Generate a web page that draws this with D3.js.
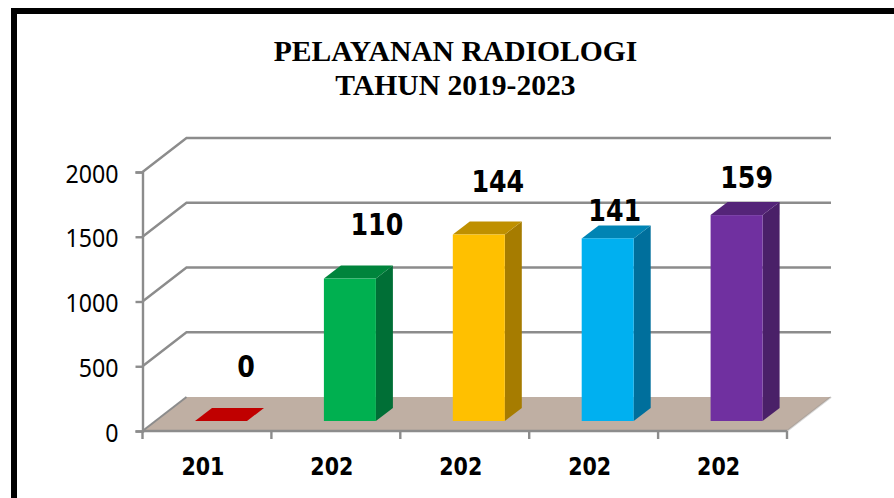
<!DOCTYPE html>
<html><head><meta charset="utf-8">
<script src="https://cdn.jsdelivr.net/npm/d3@7"></script>
<style>html,body{margin:0;background:#fff}svg{display:block}</style></head>
<body><svg id="c" width="894" height="498"></svg>
<script>
const titleLines = ["PELAYANAN RADIOLOGI", "TAHUN 2019-2023"];
const categories = ["a", "b", "c", "d", "e"];
const categoryLabels = ["201", "202", "202", "202", "202"];
const values = [0, 1100, 1440, 1410, 1590];
const valueLabels = ["0", "110", "144", "141", "159"];
const yTicks = [0, 500, 1000, 1500, 2000];
const frontColors = ["#c00000", "#00b050", "#ffc000", "#00b0f0", "#7030a0"];
const topColors = ["#c00000", "#00843c", "#bf9000", "#0084b4", "#542478"];
const sideColors = ["#900000", "#006f36", "#a67c00", "#006f9c", "#4a2068"];
const labelShift = [[25, -55], [27, -54], [19, -53], [7, -28], [10, -38]];

const svg = d3.select("#c");
const W = 894, H = 498;
const x = d3.scaleBand().domain(categories).range([142.5, 787]);
const y = d3.scaleLinear().domain([0, 2000]).range([431, 172]);
const depth = [44, -34];
const grey = "#8c8c8c";
const pts = a => a.map(p => p.join(",")).join(" ");

// frame
svg.append("path").attr("d", `M14,${H}V11H${W}`).attr("fill", "none").attr("stroke", "#000").attr("stroke-width", 6);

// floor
const x0 = x.range()[0], x1 = x.range()[1], y0 = y(0);
svg.append("polygon").attr("fill", "#bfafa3")
  .attr("points", pts([[x0, y0], [x0 + depth[0], y0 + depth[1]], [x1 + depth[0], y0 + depth[1]], [x1, y0]]));

// wall gridlines
yTicks.forEach(t => {
  const yy = y(t);
  if (t > 0) svg.append("polyline").attr("fill", "none").attr("stroke", grey).attr("stroke-width", 2.4)
    .attr("points", pts([[x0, yy], [x0 + depth[0], yy + depth[1]], [x1 + depth[0], yy + depth[1]]]));
});
svg.append("polyline").attr("fill", "none").attr("stroke", grey).attr("stroke-width", 2)
  .attr("points", pts([[x0, y0], [x0 + depth[0], y0 + depth[1]]]));
svg.append("polyline").attr("fill", "none").attr("stroke", grey).attr("stroke-width", 2)
  .attr("points", pts([[x1, y0], [x1 + depth[0], y0 + depth[1]]])).attr("stroke-opacity", 0.35);

// axes
const axisY = d3.axisLeft(y).tickValues(yTicks).tickSize(7).tickPadding(17).tickFormat(d3.format("d"));
const gy = svg.append("g").attr("transform", `translate(${x0},0)`).call(axisY);
gy.selectAll("path,line").attr("stroke", grey).attr("stroke-width", 2.4);
gy.selectAll("text").attr("font-family", "'Noto Sans'").attr("font-size", 25).attr("fill", "#000")
  .attr("y", 2)
  .attr("textLength", d => String(d).length * 13.25).attr("lengthAdjust", "spacingAndGlyphs");

const axisX = d3.axisBottom(x).tickSize(0).tickFormat((d, i) => categoryLabels[i]);
const gx = svg.append("g").attr("transform", `translate(0,${y0})`).call(axisX);
gx.select("path").remove();
gx.selectAll("text").attr("font-family", "'DejaVu Sans'").attr("font-weight", "bold").attr("font-size", 24)
  .attr("x", -4).attr("y", 44).attr("dy", 0)
  .attr("textLength", 43).attr("lengthAdjust", "spacingAndGlyphs").attr("fill", "#000");
const xEdges = categories.map(c => x(c)).concat([x1]);
svg.append("path").attr("d", `M${x0},${y0}H${x1}`).attr("stroke", grey).attr("stroke-width", 2.4);
svg.selectAll(".xt").data(xEdges).join("line").attr("class", "xt")
  .attr("x1", d => d).attr("x2", d => d).attr("y1", y0).attr("y2", y0 + 8).attr("stroke", grey).attr("stroke-width", 2.4);

// bars
const barW = 52, barInset = 52.5, bd = [17, -13], baseLift = -10;
values.forEach((v, i) => {
  const c = categories[i], L = x(c) + barInset, R = L + barW, B = y(0) + baseLift, T = B - (y(0) - y(v));
  const g = svg.append("g");
  g.append("polygon").attr("fill", sideColors[i]).attr("points", pts([[R, B], [R + bd[0], B + bd[1]], [R + bd[0], T + bd[1]], [R, T]]));
  g.append("polygon").attr("fill", topColors[i]).attr("points", pts([[L, T], [L + bd[0], T + bd[1]], [R + bd[0], T + bd[1]], [R, T]]));
  g.append("rect").attr("x", L).attr("y", T).attr("width", barW).attr("height", B - T).attr("fill", frontColors[i]);
  svg.append("text").attr("x", L + barW / 2 + labelShift[i][0]).attr("y", T + labelShift[i][1])
    .attr("dy", "0.36em").attr("text-anchor", "middle").attr("font-family", "'DejaVu Sans'").attr("font-weight", "bold")
    .attr("font-size", 30).attr("textLength", valueLabels[i].length * 17.6).attr("lengthAdjust", "spacingAndGlyphs").text(valueLabels[i]);
});

// title
svg.append("text").attr("text-anchor", "middle").attr("font-family", "'Liberation Serif'").attr("font-weight", "bold").attr("font-size", 29.6)
  .selectAll("tspan").data(titleLines).join("tspan").attr("x", 455.5).attr("y", (d, i) => 61 + i * 34).text(d => d);
</script></body></html>
